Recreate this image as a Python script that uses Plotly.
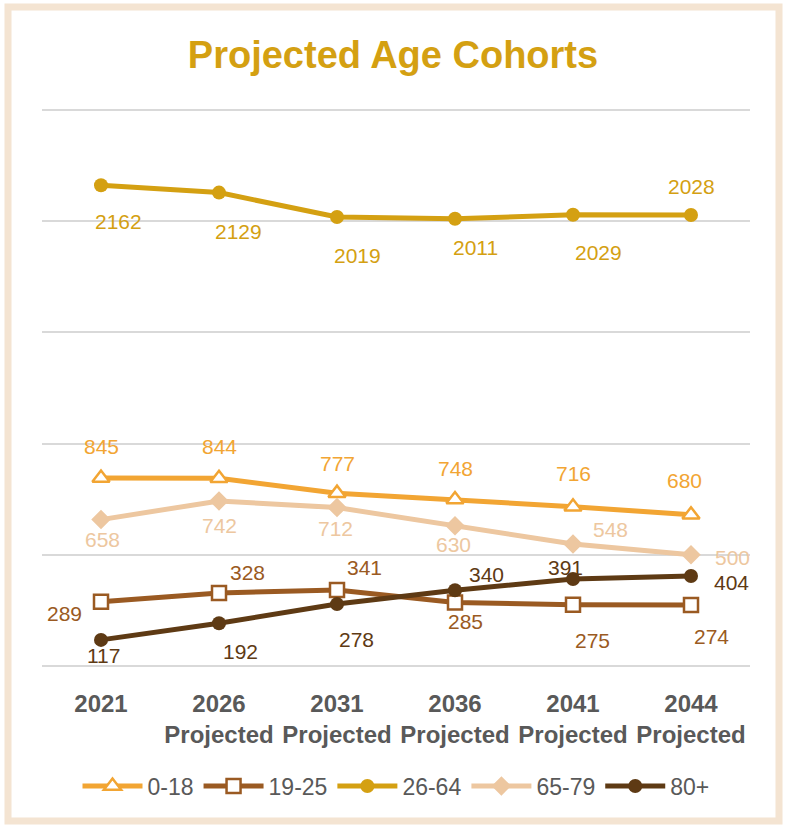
import plotly.graph_objects as go

years = ["2021", "2026", "2031", "2036", "2041", "2044"]
tick_labels = ["2021", "2026<br>Projected", "2031<br>Projected", "2036<br>Projected",
               "2041<br>Projected", "2044<br>Projected"]
series_names = ["0-18", "19-25", "26-64", "65-79", "80+"]
age_0_18 = [845, 844, 777, 748, 716, 680]
age_19_25 = [289, 328, 341, 285, 275, 274]
age_26_64 = [2162, 2129, 2019, 2011, 2029, 2028]
age_65_79 = [658, 742, 712, 630, 548, 500]
age_80p = [117, 192, 278, 340, 391, 404]

values = [age_0_18, age_19_25, age_26_64, age_65_79, age_80p]

colors = ["#F2A533", "#9A5A22", "#D4A012", "#EDC7A0", "#5E3A14"]
symbols = ["triangle-up", "square", "circle", "diamond", "circle"]
fills = ["white", "white", None, None, None]
msizes = [15, 14, 14, 15, 14]

# label pixel offsets (dx, dy down-positive) per series
offsets = [
    [(0, -32), (0, -32), (0, -30), (0, -31), (0, -33), (-7, -34)],
    [(-37, 12), (28, -20), (27, -23), (10, 19), (19, 36), (20, 32)],
    [(17, 36), (19, 39), (20, 38), (20, 29), (25, 38), (0, -29)],
    [(1, 20), (0, 25), (-2, 21), (-2, 19), (37, -15), (41, 3)],
    [(2, 16), (21, 28), (19, 35), (31, -16), (-8, -11), (40, 6)],
]

label_font = "Liberation Sans Narrow, Liberation Sans, Arial"
fig = go.Figure()
for name, vals, col, sym, fill, ms in zip(series_names, values, colors, symbols, fills, msizes):
    marker = dict(symbol=sym, size=ms, color=fill if fill else col)
    if fill:
        marker["line"] = dict(color=col, width=2.5)
    else:
        marker["line"] = dict(color=col, width=0)
    fig.add_trace(go.Scatter(x=years, y=vals, name=name, mode="lines+markers",
                             line=dict(color=col, width=5), marker=marker))

for vals, col, offs in zip(values, colors, offsets):
    for i, (v, (dx, dy)) in enumerate(zip(vals, offs)):
        fig.add_annotation(x=i, y=v, xref="x", yref="y", text=str(v), showarrow=False,
                           xshift=dx, yshift=-dy,
                           font=dict(family=label_font, size=21, color=col))

plot_l, plot_r, plot_t, plot_b = 42, 750, 109, 667
W, H = 786, 825
pw, ph = plot_r - plot_l, plot_b - plot_t

def px(x):
    return (x - plot_l) / pw

def py(y):
    return (plot_b - y) / ph

fig.add_shape(type="rect", xref="paper", yref="paper",
              x0=px(8), x1=px(779), y0=py(821), y1=py(7),
              line=dict(color="#F4E4D2", width=7), layer="below")

fig.update_layout(
    width=W, height=H,
    margin=dict(l=plot_l, r=W - plot_r, t=plot_t, b=H - plot_b),
    paper_bgcolor="white", plot_bgcolor="white",
    title=dict(text="<b>Projected Age Cohorts</b>", x=0.5, xanchor="center",
               y=1 - 55 / H, yanchor="middle",
               font=dict(family=label_font, size=38, color="#D4A012")),
    xaxis=dict(type="category", categoryorder="array", categoryarray=years,
               tickmode="array", tickvals=years,
               ticktext=["<b>" + t.replace("<br>", "</b><br><b>") + "</b>" for t in tick_labels],
               range=[-0.5, 5.5], showgrid=False, zeroline=False, showline=False,
               tickfont=dict(family=label_font, size=24, color="#595959"),
               ticks="", ticklabelstandoff=20),
    yaxis=dict(range=[-5, 2505], dtick=500, tick0=0, showticklabels=False,
               gridcolor="#D9D9D9", gridwidth=2, zeroline=False, showline=False),
    legend=dict(orientation="h", x=0.5, xanchor="center", y=py(786), yanchor="middle",
                font=dict(family=label_font, size=23, color="#595959"),
                itemwidth=60, tracegroupgap=0),
    showlegend=True,
)

fig.write_html("out.html")
